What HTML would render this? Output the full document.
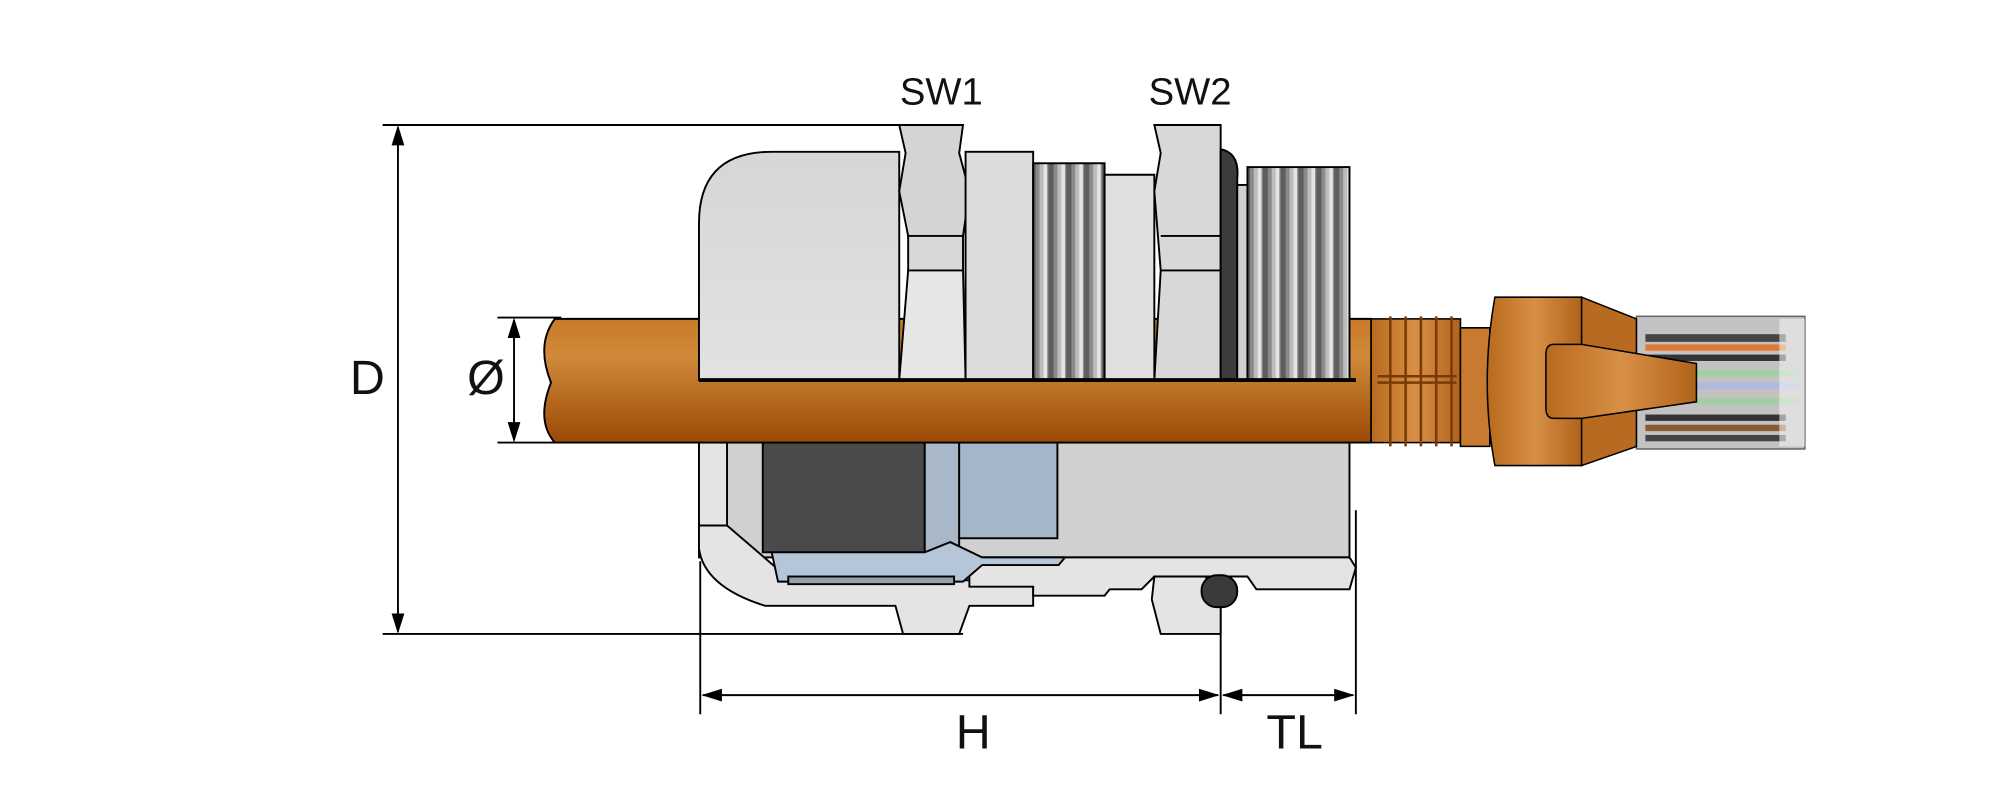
<!DOCTYPE html>
<html><head><style>html,body{margin:0;padding:0;background:#fff}svg{display:block}</style></head>
<body>
<svg width="2000" height="801" viewBox="0 0 1568 628" preserveAspectRatio="none" xmlns="http://www.w3.org/2000/svg" font-family="Liberation Sans, sans-serif">
<defs>
<linearGradient id="cab" x1="0" y1="0" x2="0" y2="1"><stop offset="0" stop-color="#c97a28"/><stop offset="0.3" stop-color="#d08a3a"/><stop offset="1" stop-color="#9a4a05"/></linearGradient>
<linearGradient id="cabh" x1="0" y1="0" x2="1" y2="0"><stop offset="0" stop-color="#b86a1c"/><stop offset="0.5" stop-color="#d89046"/><stop offset="1" stop-color="#b0621a"/></linearGradient>
<pattern id="tp" x="0" y="0" width="14" height="10" patternUnits="userSpaceOnUse"><rect width="14" height="10" fill="#8a8a8a"/><rect x="3" width="3" height="10" fill="#bcbcbc"/><rect x="6" width="3" height="10" fill="#e4e4e4"/><rect x="10" width="4" height="10" fill="#5e5e5e"/></pattern>
<linearGradient id="cap" x1="0" y1="0" x2="0" y2="1"><stop offset="0" stop-color="#d6d6d6"/><stop offset="1" stop-color="#e2e2e2"/></linearGradient>
</defs>
<g stroke="#000" stroke-width="1.5" fill="none">
<line x1="300" y1="98" x2="755" y2="98"/><line x1="300" y1="497" x2="755" y2="497"/>
<line x1="312" y1="100" x2="312" y2="495"/>
<line x1="390" y1="249" x2="440" y2="249"/><line x1="390" y1="347" x2="440" y2="347"/>
<line x1="403" y1="251" x2="403" y2="345"/>
<line x1="549" y1="440" x2="549" y2="560"/><line x1="957" y1="470" x2="957" y2="560"/><line x1="1063" y1="400" x2="1063" y2="560"/>
<line x1="551" y1="545" x2="955" y2="545"/><line x1="959" y1="545" x2="1061" y2="545"/>
</g>
<g fill="#000">
<polygon points="312,98 307,114 317,114"/><polygon points="312,497 307,481 317,481"/>
<polygon points="403,249 398,265 408,265"/><polygon points="403,347 398,331 408,331"/>
<polygon points="550,545 566,540 566,550"/><polygon points="956,545 940,540 940,550"/>
<polygon points="958,545 974,540 974,550"/><polygon points="1062,545 1046,540 1046,550"/>
</g>
<g fill="#111" text-anchor="middle">
<text x="288" y="309" font-size="38">D</text>
<text x="381" y="309" font-size="38">Ø</text>
<text x="738" y="82" font-size="30">SW1</text>
<text x="933" y="82" font-size="30">SW2</text>
<text x="763" y="587" font-size="38">H</text>
<text x="1015" y="587" font-size="38">TL</text>
</g>
<g stroke="#000" stroke-width="1.5">
<rect x="548" y="347" width="510" height="90" fill="#d0d0d0"/>
<rect x="548" y="347" width="22" height="65" fill="#e4e4e4"/>
<path d="M548,412 H570 L620,455 H810 V475 H760 L752,497 H708 L702,475 H600 Q552,460 548,430 Z" fill="#e4e4e4"/>
<path d="M760,437 H1058 L1063,445 L1058,462 H985 L978,452 H905 L903,470 L910,497 H957 V460 H950 L945,452 H905 L895,462 H870 L866,467 H810 V460 H760 Z" fill="#e4e4e4"/>
<rect x="598" y="347" width="127" height="86" fill="#4a4a4a"/>
<rect x="725" y="347" width="27" height="90" fill="#a8b8c8"/>
<rect x="752" y="347" width="77" height="75" fill="#a4b6c8"/>
<path d="M605,433 H725 L745,425 L770,437 H835 L830,443 H770 L755,456 H610 Z" fill="#b4c6d8"/>
<rect x="618" y="452" width="130" height="6" fill="#9aa0a8"/>
<rect x="942" y="451" width="28" height="25" rx="12" fill="#3a3a3a"/>
</g>
<path d="M435,250 H1075 V347 H435 Q420,330 432,300 Q420,270 435,250 Z" fill="url(#cab)" stroke="#000" stroke-width="1.5"/>
<g stroke="#000" stroke-width="1.5">
<path d="M548,298 V175 Q548,119 605,119 H705 V298 Z" fill="url(#cap)"/>
<path d="M705,98 H755 L752,120 L760,150 L755,185 H712 L705,150 L710,120 Z" fill="#d4d4d4"/>
<path d="M712,185 H755 V212 H712 Z" fill="#d8d8d8"/>
<path d="M712,212 H755 L757,298 H705 Z" fill="#e6e6e6"/>
<rect x="757" y="119" width="53" height="179" fill="#dcdcdc"/>
<rect x="810" y="128" width="56" height="170" fill="url(#tp)"/>
<path d="M866,137 H905 V298 H866 Z" fill="#e0e0e0"/>
<path d="M905,98 H957 V298 H905 L910,212 L905,150 L910,120 Z" fill="#d8d8d8"/>
<line x1="910" y1="185" x2="957" y2="185"/><line x1="910" y1="212" x2="957" y2="212"/>
<path d="M957,117 Q972,120 970,140 V298 H957 Z" fill="#3c3c3c"/>
<rect x="970" y="145" width="8" height="153" fill="#d0d0d0"/>
<rect x="978" y="131" width="80" height="167" fill="url(#tp)"/>
<line x1="548" y1="298" x2="1063" y2="298" stroke-width="3"/>
</g>
<g stroke="#000" stroke-width="1.2">
<rect x="1075" y="250" width="70" height="97" fill="url(#cabh)"/>
<g stroke="#7a3a08" stroke-width="2">
<line x1="1090" y1="248" x2="1090" y2="350"/><line x1="1102" y1="248" x2="1102" y2="350"/><line x1="1114" y1="248" x2="1114" y2="350"/><line x1="1126" y1="248" x2="1126" y2="350"/><line x1="1138" y1="248" x2="1138" y2="350"/>
<line x1="1080" y1="295" x2="1142" y2="295"/><line x1="1080" y1="300" x2="1142" y2="300"/>
</g>
<path d="M1145,257 H1168 V350 H1145 Z" fill="#c87a30"/>
<path d="M1172,233 H1240 V365 H1172 Q1160,300 1172,233 Z" fill="url(#cabh)"/>
<path d="M1240,233 L1283,250 V350 L1240,365 Z" fill="#b86a20"/>
<rect x="1283" y="248" width="132" height="104" fill="#9a9a9a" opacity="0.6"/>
<g stroke="none">
<rect x="1290" y="262" width="110" height="6" fill="#444"/>
<rect x="1290" y="270" width="110" height="5" fill="#e07a30"/>
<rect x="1290" y="278" width="110" height="5" fill="#333"/>
<rect x="1330" y="290" width="80" height="5" fill="#a0d0a0"/>
<rect x="1330" y="300" width="80" height="5" fill="#b0b8e0"/>
<rect x="1330" y="312" width="80" height="5" fill="#a0d0a0"/>
<rect x="1290" y="325" width="110" height="5" fill="#333"/>
<rect x="1290" y="333" width="110" height="5" fill="#8a5a30"/>
<rect x="1290" y="341" width="110" height="5" fill="#444"/>
<rect x="1395" y="250" width="20" height="100" fill="#f0f0f0" opacity="0.6"/>
</g>
<path d="M1218,270 H1240 L1330,285 V315 L1240,328 H1218 Q1212,328 1212,320 V278 Q1212,270 1218,270 Z" fill="url(#cabh)"/>
</g>
</svg>
</body></html>
